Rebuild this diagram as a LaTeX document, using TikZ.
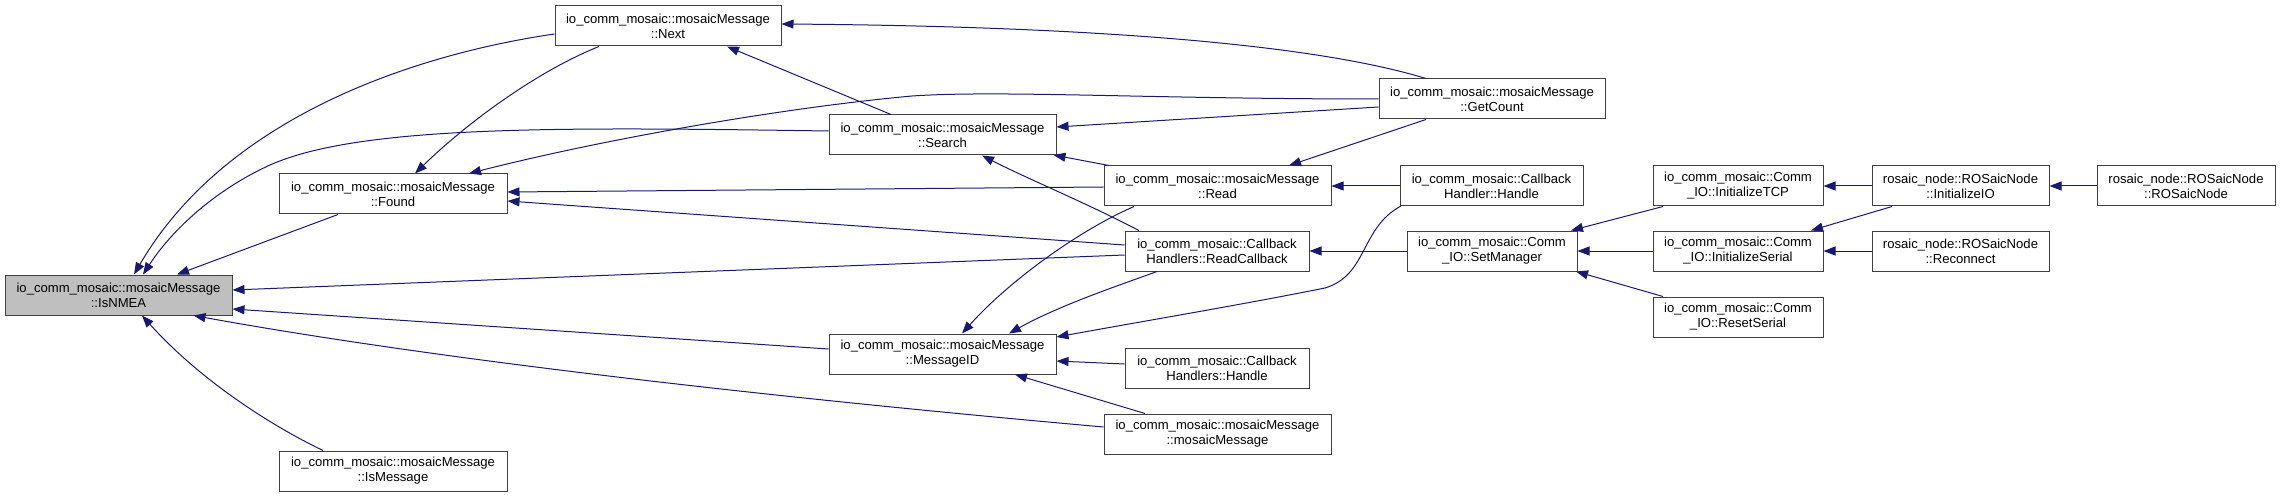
\documentclass[tikz,border=0pt]{standalone}
\usepackage{fontspec}
\setmainfont{Liberation Sans}
\usetikzlibrary{arrows.meta,calc}
\definecolor{edgeblue}{RGB}{25,25,112}
\definecolor{boxline}{RGB}{64,64,64}
\definecolor{curfill}{RGB}{191,191,191}
\tikzset{
  box/.style={draw=boxline, line width=1pt, fill=white, inner sep=0pt, minimum height=40pt, align=center, font=\fontsize{13.1}{15}\selectfont},
  edge/.style={draw=edgeblue, line width=1pt, -{Triangle[length=12pt,width=9pt]}, edgeblue}
}
\begin{document}
\begin{tikzpicture}[x=1pt,y=-1pt]
\useasboundingbox (0,0) rectangle (2280,497);
% nodes
\node[box, fill=curfill, minimum width=227pt] (IsNMEA) at (118.5,295) {io\_comm\_mosaic::mosaicMessage\\::IsNMEA};
\node[box, minimum width=228pt] (Found) at (393,194) {io\_comm\_mosaic::mosaicMessage\\::Found};
\node[box, minimum width=228pt] (IsMessage) at (393,471) {io\_comm\_mosaic::mosaicMessage\\::IsMessage};
\node[box, minimum width=226pt] (Next) at (668,26) {io\_comm\_mosaic::mosaicMessage\\::Next};
\node[box, minimum width=227pt] (Search) at (942.5,135) {io\_comm\_mosaic::mosaicMessage\\::Search};
\node[box, minimum width=227pt] (MessageID) at (942.5,354) {io\_comm\_mosaic::mosaicMessage\\::MessageID};
\node[box, minimum width=226pt] (GetCount) at (1492,99) {io\_comm\_mosaic::mosaicMessage\\::GetCount};
\node[box, minimum width=227pt] (Read) at (1217.5,186) {io\_comm\_mosaic::mosaicMessage\\::Read};
\node[box, minimum width=184pt] (ReadCallback) at (1217,251) {io\_comm\_mosaic::Callback\\Handlers::ReadCallback};
\node[box, minimum width=184pt] (CBHHandle) at (1217,368) {io\_comm\_mosaic::Callback\\Handlers::Handle};
\node[box, minimum width=227pt] (MosaicMsg) at (1217.5,434) {io\_comm\_mosaic::mosaicMessage\\::mosaicMessage};
\node[box, minimum width=183pt] (CBHandle) at (1491.5,186) {io\_comm\_mosaic::Callback\\Handler::Handle};
\node[box, minimum width=170pt] (SetManager) at (1492,251) {io\_comm\_mosaic::Comm\\\_IO::SetManager};
\node[box, minimum width=170pt] (TCP) at (1738,186) {io\_comm\_mosaic::Comm\\\_IO::InitializeTCP};
\node[box, minimum width=170pt] (Serial) at (1738,251) {io\_comm\_mosaic::Comm\\\_IO::InitializeSerial};
\node[box, minimum width=170pt] (ResetSerial) at (1738,317) {io\_comm\_mosaic::Comm\\\_IO::ResetSerial};
\node[box, minimum width=177pt] (InitIO) at (1960.5,186) {rosaic\_node::ROSaicNode\\::InitializeIO};
\node[box, minimum width=177pt] (Reconnect) at (1960.5,251) {rosaic\_node::ROSaicNode\\::Reconnect};
\node[box, minimum width=178pt] (ROSaic) at (2186,186) {rosaic\_node::ROSaicNode\\::ROSaicNode};
% edges into IsNMEA
\draw[edge] ($(Next.west)+(0,8)$) .. controls (430,52) and (230,110) .. ($(IsNMEA.north)+(15.5,0)$);
\draw[edge] ($(Search.west)+(0,-4)$) .. controls (560,127) and (360,125) .. (270,165) .. controls (215,190) and (172,230) .. ($(IsNMEA.north)+(24.5,0)$);
\draw[edge] ($(Found.south)+(-55,0)$) -- ($(IsNMEA.north)+(58.5,0)$);
\draw[edge] ($(ReadCallback.west)+(0,4)$) -- ($(IsNMEA.east)+(0,-5)$);
\draw[edge] ($(MessageID.west)+(0,-5)$) -- ($(IsNMEA.east)+(0,14)$);
\draw[edge] ($(MosaicMsg.west)+(0,-7)$) .. controls (800,400) and (450,362) .. ($(IsNMEA.south)+(75,0)$);
\draw[edge] ($(IsMessage.north)+(-70,0)$) .. controls (270,425) and (200,380) .. ($(IsNMEA.south)+(23.5,0)$);
% edges into Found
\draw[edge] ($(Next.south)+(-69,0)$) .. controls (540,70) and (470,120) .. ($(Found.north)+(22,0)$);
\draw[edge] (GetCount.west) .. controls (1150,99) and (1000,90) .. (912,96) .. controls (780,108) and (600,140) .. ($(Found.north)+(76,0)$);
\draw[edge] ($(Read.west)+(0,1)$) -- ($(Found.east)+(0,-2)$);
\draw[edge] ($(ReadCallback.west)+(0,-6)$) -- ($(Found.east)+(0,7)$);
% edges into Next
\draw[edge] ($(GetCount.north)+(-66,0)$) .. controls (1300,40) and (1050,26) .. ($(Next.east)+(0,-2)$);
\draw[edge] ($(Search.north)+(-51.5,0)$) -- ($(Next.south)+(59,0)$);
% edges into Search
\draw[edge] ($(GetCount.west)+(0,8)$) -- ($(Search.east)+(0,-8)$);
\draw[edge] ($(Read.north)+(-108.5,0)$) -- ($(Search.center)+(111,20)$);
\draw[edge] ($(ReadCallback.north)+(-78,0)$) .. controls (1080,200) and (1030,180) .. ($(Search.south)+(39.5,0)$);
% edges into Read
\draw[edge] ($(GetCount.south)+(-66,0)$) -- ($(Read.north)+(71.5,0)$);
\draw[edge] (CBHandle.west) -- (Read.east);
% edges into MessageID
\draw[edge] ($(Read.south)+(-83.5,0)$) .. controls (1080,230) and (1010,280) .. ($(MessageID.north)+(19.5,0)$);
\draw[edge] ($(ReadCallback.south)+(-60,0)$) .. controls (1120,285) and (1060,305) .. ($(MessageID.north)+(66.5,0)$);
\draw[edge] ($(CBHandle.center)+(-90.5,20)$) .. controls (1360,228) and (1368,275) .. (1325,288) .. controls (1240,305) and (1150,320) .. ($(MessageID.east)+(0,-17)$);
\draw[edge] ($(CBHHandle.west)+(0,-4)$) -- ($(MessageID.east)+(0,7)$);
\draw[edge] ($(MosaicMsg.north)+(-72.5,0)$) -- ($(MessageID.south)+(72.5,0)$);
% right part
\draw[edge] (SetManager.west) -- (ReadCallback.east);
\draw[edge] ($(TCP.south)+(-75,0)$) -- ($(SetManager.north)+(79,0)$);
\draw[edge] (Serial.west) -- (SetManager.east);
\draw[edge] ($(ResetSerial.north)+(-75,0)$) -- ($(SetManager.south)+(84,0)$);
\draw[edge] (InitIO.west) -- (TCP.east);
\draw[edge] ($(InitIO.south)+(-68.5,0)$) -- ($(Serial.north)+(73,0)$);
\draw[edge] (Reconnect.west) -- (Serial.east);
\draw[edge] (ROSaic.west) -- (InitIO.east);
\end{tikzpicture}
\end{document}
